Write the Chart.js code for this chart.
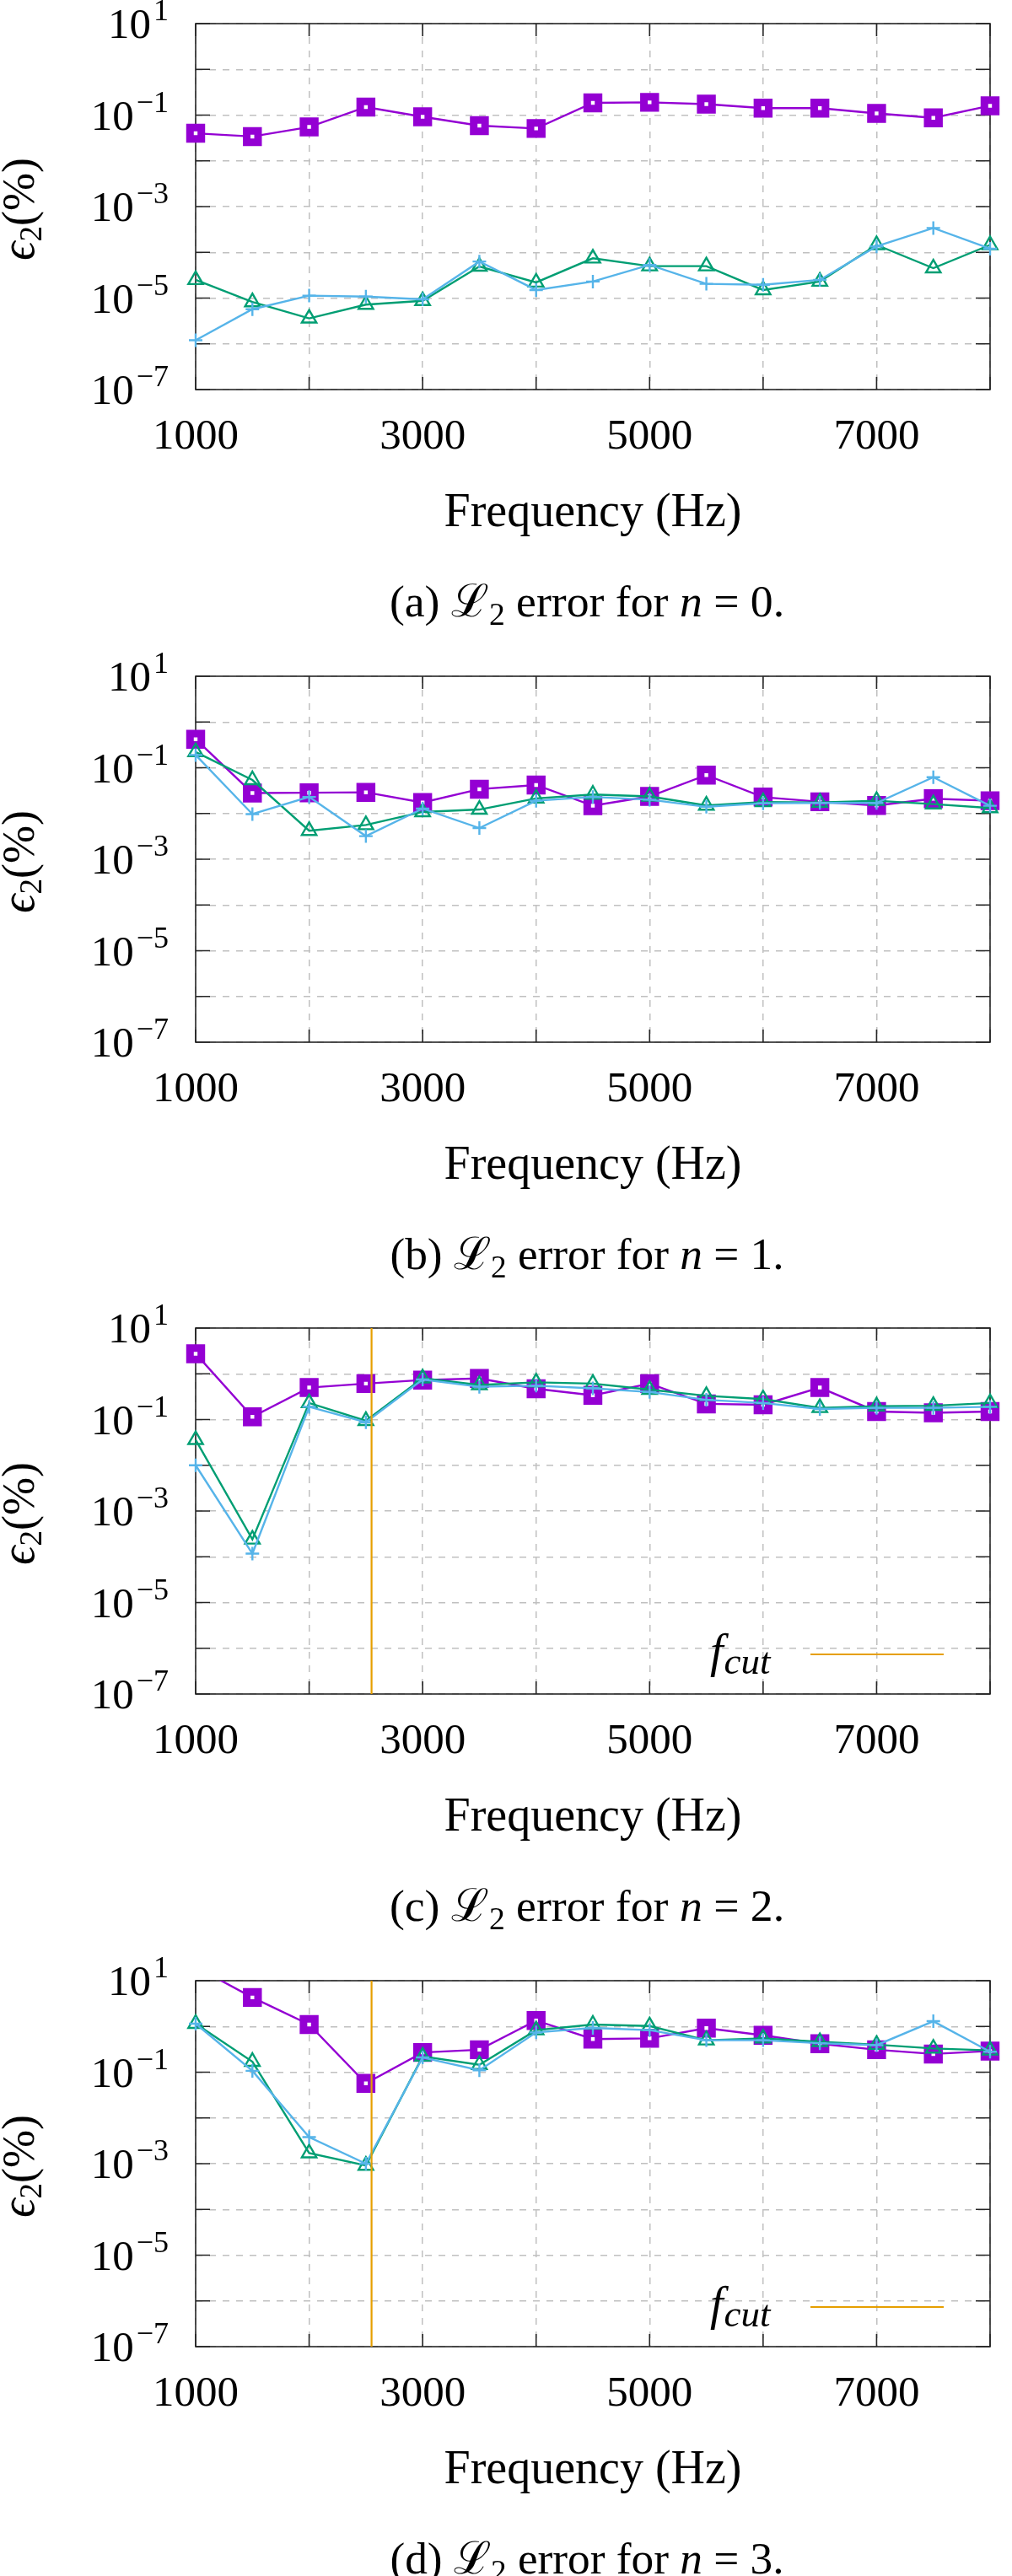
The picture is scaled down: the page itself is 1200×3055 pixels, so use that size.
<!DOCTYPE html>
<html><head><meta charset="utf-8">
<script src="https://cdn.jsdelivr.net/npm/chart.js@4"></script>
<style>
html,body{margin:0;padding:0;background:#fff;}
#page{position:relative;width:1200px;height:3055px;background:#fff;overflow:hidden;}
.panel{position:absolute;left:0;width:1200px;height:700px;}
.caption{position:absolute;font-family:'Liberation Serif','DejaVu Serif',serif;font-size:50px;color:#000;white-space:nowrap;transform:translate(-50%,-50%);line-height:1;}
.caption sub{font-size:0.7em;vertical-align:-0.25em;line-height:0;}
.caption i{font-style:italic;}
</style></head><body>
<div id="page"></div>
<script>
// ---------- data ----------
const frequencies = [1000,1500,2000,2500,3000,3500,4000,4500,5000,5500,6000,6500,7000,7500,8000];
const xTickLabels = [1000,3000,5000,7000];
const yGridExponents = [-7,-6,-5,-4,-3,-2,-1,0,1];
const yLabelExponents = [1,-1,-3,-5,-7];
const cutoffFrequency = 2550;
const captionLetters = ['a','b','c','d'];
const captionOrders = [0,1,2,3];

const a_square = [0.040,0.034,0.055,0.15,0.092,0.059,0.051,0.185,0.19,0.174,0.142,0.142,0.109,0.087,0.16];
const a_triangle = [2.5e-5,8.2e-6,3.6e-6,7.2e-6,8.7e-6,4.9e-5,2.2e-5,7.4e-5,5.0e-5,5.0e-5,1.5e-5,2.3e-5,1.45e-4,4.5e-5,1.45e-4];
const a_plus = [1.2e-6,5.7e-6,1.13e-5,1.08e-5,9.4e-6,6.3e-5,1.5e-5,2.3e-5,5.3e-5,2.05e-5,1.95e-5,2.5e-5,1.35e-4,3.4e-4,1.2e-4];

const b_square = [0.42,0.028,0.0284,0.029,0.0174,0.034,0.042,0.0148,0.0236,0.069,0.0228,0.018,0.015,0.021,0.019];
const b_triangle = [0.22,0.054,0.0042,0.0056,0.0108,0.0122,0.0214,0.026,0.0236,0.015,0.0178,0.0174,0.019,0.016,0.0132];
const b_plus = [0.19,0.0097,0.023,0.0032,0.0128,0.0048,0.019,0.023,0.020,0.014,0.0167,0.017,0.017,0.062,0.0147];

const c_square = [2.75,0.115,0.50,0.61,0.73,0.79,0.47,0.34,0.61,0.22,0.21,0.50,0.15,0.14,0.15];
const c_triangle = [0.036,2.4e-4,0.23,0.094,0.8,0.57,0.65,0.61,0.45,0.33,0.28,0.18,0.195,0.20,0.23];
const c_plus = [0.010,1.17e-4,0.19,0.087,0.75,0.52,0.55,0.48,0.40,0.27,0.23,0.17,0.18,0.18,0.19];

const d_square = [20,4.3,1.1,0.057,0.27,0.31,1.35,0.53,0.55,0.92,0.64,0.42,0.31,0.25,0.29];
const d_triangle = [1.15,0.17,1.7e-3,9.1e-4,0.22,0.145,0.83,1.1,1.02,0.50,0.55,0.46,0.40,0.33,0.30];
const d_plus = [1.15,0.107,3.8e-3,1.0e-3,0.21,0.11,0.74,0.93,0.83,0.50,0.50,0.43,0.39,1.3,0.28];

const panels = [
  {sq:a_square, tri:a_triangle, plus:a_plus, cut:false},
  {sq:b_square, tri:b_triangle, plus:b_plus, cut:false},
  {sq:c_square, tri:c_triangle, plus:c_plus, cut:true},
  {sq:d_square, tri:d_triangle, plus:d_plus, cut:true}
];

// ---------- layout / style ----------
const plotTops = [28, 802, 1575, 2349];
const PLOT_H = 434, CANVAS_H = 700, TOP_PAD = 28;
const SERIF = "'Liberation Serif','DejaVu Serif',serif";
const COLORS = {sq:'#9400D3', tri:'#009E73', plus:'#56B4E9', cut:'#E69F00'};
const CAPTION_WIDTH = 468;

Chart.defaults.font.family = SERIF;
Chart.defaults.color = '#000';

const pts = arr => frequencies.map((f,i)=>({x:f, y:arr[i]}));

const decorPlugin = {
  id: 'decor',
  beforeDatasetsDraw(chart) {
    const {ctx, chartArea:a, scales:{x, y}} = chart;
    ctx.save();
    ctx.strokeStyle = '#262626';
    ctx.lineWidth = 1.6;
    ctx.beginPath();
    x.ticks.forEach(t => {
      const px = x.getPixelForValue(t.value);
      ctx.moveTo(px, a.bottom); ctx.lineTo(px, a.bottom - 15);
      ctx.moveTo(px, a.top); ctx.lineTo(px, a.top + 15);
    });
    y.ticks.forEach(t => {
      const py = y.getPixelForValue(t.value);
      ctx.moveTo(a.left, py); ctx.lineTo(a.left + 17, py);
      ctx.moveTo(a.right, py); ctx.lineTo(a.right - 17, py);
    });
    ctx.stroke();
    ctx.strokeRect(a.left, a.top, a.right - a.left, a.bottom - a.top);
    ctx.restore();
  },
  afterDraw(chart) {
    const {ctx, chartArea:a, scales:{y}} = chart;
    ctx.save();
    ctx.fillStyle = '#000';
    ctx.textBaseline = 'alphabetic';
    // y tick labels 10^e
    const rightEdge = a.left - 32;
    yLabelExponents.forEach(e => {
      const py = y.getPixelForValue(Math.pow(10, e));
      const sup = (e < 0 ? '\u2212' : '') + Math.abs(e);
      ctx.font = '36px ' + SERIF;
      const wSup = ctx.measureText(sup).width;
      ctx.font = '51px ' + SERIF;
      const wTen = ctx.measureText('10').width;
      const xTen = rightEdge - wSup - 3 - wTen;
      ctx.fillText('10', xTen, py + 17);
      ctx.font = '36px ' + SERIF;
      ctx.fillText(sup, xTen + wTen + 3, py - 4);
    });
    // y axis title  ϵ2(%)
    ctx.translate(40, (a.top + a.bottom) / 2 + 3);
    ctx.rotate(-Math.PI / 2);
    const parts = [
      {t:'\u03F5', f:'italic 56px ' + SERIF, dy:0},
      {t:'2', f:'37px ' + SERIF, dy:9},
      {t:'(%)', f:'54px ' + SERIF, dy:0}
    ];
    let total = 0;
    parts.forEach(p => { ctx.font = p.f; p.w = ctx.measureText(p.t).width; total += p.w; });
    let cx = -total / 2;
    parts.forEach(p => { ctx.font = p.f; ctx.fillText(p.t, cx, p.dy); cx += p.w; });
    ctx.restore();

    // f_cut legend
    const cutSet = chart.data.datasets.find(d => d.isCutoff);
    if (cutSet) {
      ctx.save();
      ctx.fillStyle = '#000';
      ctx.font = 'italic 56px ' + SERIF;
      const base = a.top + 402;
      ctx.fillText('f', 842, base);
      const wf = ctx.measureText('f').width;
      ctx.font = 'italic 45px ' + SERIF;
      ctx.fillText('cut', 842 + wf + 1, base + 8);
      ctx.strokeStyle = cutSet.borderColor;
      ctx.lineWidth = cutSet.borderWidth;
      ctx.beginPath();
      ctx.moveTo(961, a.top + 387); ctx.lineTo(1119, a.top + 387);
      ctx.stroke();
      ctx.restore();
    }
  }
};

const page = document.getElementById('page');
panels.forEach((p, k) => {
  const wrap = document.createElement('div');
  wrap.className = 'panel';
  wrap.style.top = (plotTops[k] - TOP_PAD) + 'px';
  const cv = document.createElement('canvas');
  cv.width = 1200; cv.height = CANVAS_H;
  cv.style.width = '1200px'; cv.style.height = CANVAS_H + 'px';
  wrap.appendChild(cv);
  page.appendChild(wrap);

  const datasets = [
    {label:'series 1', data:pts(p.sq), borderColor:COLORS.sq, backgroundColor:COLORS.sq, borderWidth:2.4,
     pointStyle:'rect', pointRadius:9.5, pointBorderWidth:9, pointBackgroundColor:'#fff', pointBorderColor:COLORS.sq, order:3},
    {label:'series 2', data:pts(p.tri), borderColor:COLORS.tri, backgroundColor:COLORS.tri, borderWidth:2.4,
     pointStyle:'triangle', pointRadius:10, pointBorderWidth:2.4, pointBackgroundColor:'rgba(0,0,0,0)', pointBorderColor:COLORS.tri, order:2},
    {label:'series 3', data:pts(p.plus), borderColor:COLORS.plus, backgroundColor:COLORS.plus, borderWidth:2.4,
     pointStyle:'cross', pointRadius:8, pointBorderWidth:2.4, pointBorderColor:COLORS.plus, order:1}
  ];
  if (p.cut) {
    datasets.push({label:'f_cut', isCutoff:true, data:[{x:cutoffFrequency, y:1e-7},{x:cutoffFrequency, y:10}],
      borderColor:COLORS.cut, backgroundColor:COLORS.cut, borderWidth:2.2, pointRadius:0, order:0});
  }

  new Chart(cv, {
    type:'line',
    data:{datasets},
    plugins:[decorPlugin],
    options:{
      responsive:false,
      animation:false,
      events:[],
      layout:{padding:{top:TOP_PAD, right:12, left:0, bottom:0}},
      elements:{line:{tension:0}},
      datasets:{line:{clip:{left:20, right:20, top:0, bottom:20}}},
      plugins:{legend:{display:false}, tooltip:{enabled:false}, title:{display:false}},
      scales:{
        x:{
          type:'linear', position:'bottom', min:1000, max:8000,
          afterFit(s){ s.height = CANVAS_H - TOP_PAD - PLOT_H; },
          ticks:{stepSize:1000, autoSkip:false, maxRotation:0, padding:26,
                 font:{size:51, family:SERIF}, color:'#000',
                 callback:v => xTickLabels.includes(v) ? String(v) : ''},
          grid:{color:'#c0c0c0', lineWidth:1.5, drawTicks:false},
          border:{display:false, dash:[8,8]},
          title:{display:true, text:'Frequency (Hz)', font:{size:56, family:SERIF}, color:'#000', padding:{top:0, bottom:57}}
        },
        y:{
          type:'logarithmic', position:'left', min:1e-7, max:10,
          afterFit(s){ s.width = 232; },
          afterBuildTicks(s){ s.ticks = yGridExponents.map(e => ({value:Math.pow(10, e)})); },
          ticks:{display:false, major:{enabled:false}},
          grid:{color:'#c0c0c0', lineWidth:1.5, drawTicks:false},
          border:{display:false, dash:[8,8]}
        }
      }
    }
  });

  const cap = document.createElement('div');
  cap.className = 'caption';
  cap.style.left = '696px';
  cap.style.top = (plotTops[k] + PLOT_H + 252) + 'px';
  cap.innerHTML = '(' + captionLetters[k] + ') \u2112<sub>2</sub> error for <i>n</i> = ' + captionOrders[k] + '.';
  page.appendChild(cap);
  const w = cap.getBoundingClientRect().width;
  if (w > 0) cap.style.fontSize = Math.min(54, 50 * CAPTION_WIDTH / w).toFixed(1) + 'px';
});
</script>
</body></html>
